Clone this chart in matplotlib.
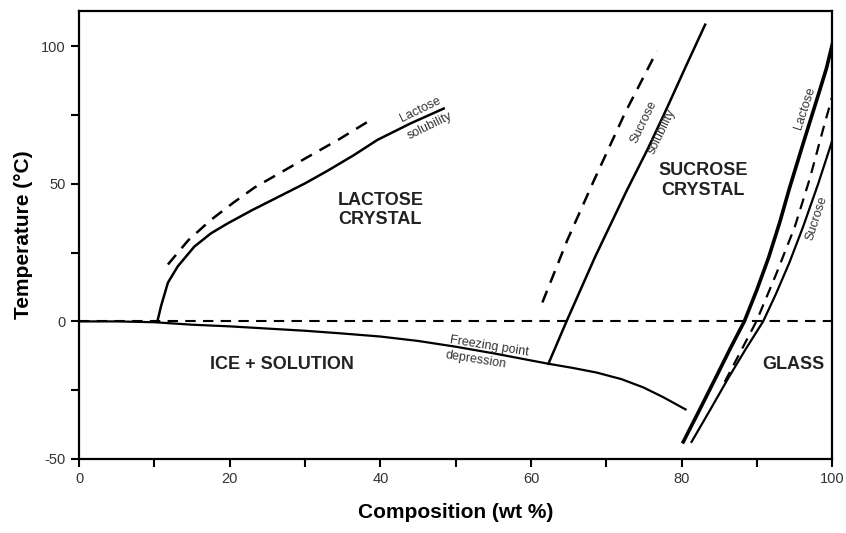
import matplotlib
matplotlib.use('Agg')
import matplotlib.pyplot as plt
from matplotlib.ticker import MultipleLocator

plt.rcParams['font.family'] = ['Liberation Sans', 'DejaVu Sans']
plt.rcParams['axes.unicode_minus'] = False

# Curvas (x em wt %, y em °C)
congel_x = [0, 5, 10, 15, 20, 25, 30, 35, 40, 45, 50, 55, 62.3, 65.5, 68.7, 72.0, 74.9, 77.5, 80.5]
congel_y = [0, 0, -0.3, -1.2, -1.8, -2.6, -3.4, -4.4, -5.5, -7.1, -9.2, -11.6, -15.4, -16.9, -18.6, -21.0, -24.0, -27.5, -32.0]

lact_sol_x = [10.4, 10.9, 11.8, 13.1, 15.3, 17.5, 19.7, 23.0, 26.4, 30.0, 33.0, 36.5, 39.6, 44.0, 48.4]
lact_sol_y = [0, 5.7, 14.1, 20.0, 27.2, 32.0, 35.6, 40.5, 45.2, 50.2, 54.8, 60.5, 66.0, 72.0, 77.4]

lact_sol_tr_x = [11.8, 14.5, 17.5, 20.5, 23.3, 27.0, 30.5, 34.5, 38.2]
lact_sol_tr_y = [20.7, 29.5, 36.9, 43.2, 48.7, 54.5, 60.0, 66.2, 72.4]

sac_sol_x = [62.3, 64.7, 68.5, 72.7, 75.5, 78.0, 80.5, 83.1]
sac_sol_y = [-15.4, 0, 23.5, 47.6, 62.8, 77.4, 92.5, 107.9]

sac_sol_tr_x = [61.5, 64.8, 68.3, 72.5, 76.7]
sac_sol_tr_y = [6.9, 29.5, 51.0, 76.0, 98.3]

vidro_lact_x = [80.2, 82.3, 84.5, 86.5, 88.3, 89.9, 91.5, 93.0, 94.3, 96.2, 98.1, 99.2, 100]
vidro_lact_y = [-43.8, -32.5, -20.5, -9.5, 0, 11.0, 23.0, 36.0, 48.5, 65.5, 82.2, 92.0, 101]

vidro_sac_x = [81.3, 83.8, 86.2, 88.5, 90.8, 92.5, 94.3, 96.1, 98.1, 100]
vidro_sac_y = [-43.8, -32.0, -20.5, -10.0, 0, 10.0, 21.5, 34.4, 50.0, 66]

vidro_tr_x = [85.7, 87.8, 89.9, 92.5, 95.0, 97.0, 98.8, 100]
vidro_tr_y = [-22, -11.0, 0, 17.0, 34.4, 52.0, 70.3, 82]

fig, ax = plt.subplots(figsize=(8.46, 5.33), dpi=100)
fig.subplots_adjust(left=0.0934, right=0.984, top=0.980, bottom=0.139)

tracejado = (5, 3.5)
ax.axhline(0, color='black', lw=1.5, dashes=tracejado)

ax.plot(congel_x, congel_y, color='black', lw=1.6)
ax.plot(lact_sol_x, lact_sol_y, color='black', lw=1.8)
ax.plot(lact_sol_tr_x, lact_sol_tr_y, color='black', lw=1.8, dashes=tracejado)
ax.plot(sac_sol_x, sac_sol_y, color='black', lw=1.8)
ax.plot(sac_sol_tr_x, sac_sol_tr_y, color='black', lw=1.8, dashes=tracejado)
ax.plot(vidro_lact_x, vidro_lact_y, color='black', lw=2.6)
ax.plot(vidro_sac_x, vidro_sac_y, color='black', lw=1.6)
ax.plot(vidro_tr_x, vidro_tr_y, color='black', lw=1.6, dashes=tracejado)

# Regiões
regiao = dict(fontsize=13, fontweight='bold', color='#222222', ha='center', va='center')
ax.text(40, 40.5, 'LACTOSE\nCRYSTAL', **regiao)
ax.text(82.8, 51.3, 'SUCROSE\nCRYSTAL', **regiao)
ax.text(26.9, -15.8, 'ICE + SOLUTION', **regiao)
ax.text(94.8, -15.8, 'GLASS', **regiao)

# Rótulos das curvas
rot = dict(fontsize=9, color='#333333', ha='center', va='center', rotation_mode='anchor')
ax.text(45.3, 77.0, 'Lactose', rotation=26, **rot)
ax.text(46.6, 71.2, 'solubility', rotation=26, **rot)
ax.text(74.9, 72.6, 'Sucrose', rotation=64, **rot)
ax.text(77.3, 69.2, 'solubility', rotation=64, **rot)
ax.text(54.4, -8.9, 'Freezing point', rotation=-9, **rot)
ax.text(52.6, -14.0, 'depression', rotation=-9, **rot)
ax.text(96.4, 77.4, 'Lactose', rotation=72, **rot)
ax.text(97.9, 37.4, 'Sucrose', rotation=72, **rot)

ax.set_xlim(0, 100)
ax.set_ylim(-50, 113)
ax.xaxis.set_major_locator(MultipleLocator(20))
ax.xaxis.set_minor_locator(MultipleLocator(10))
ax.yaxis.set_major_locator(MultipleLocator(50))
ax.yaxis.set_minor_locator(MultipleLocator(25))
ax.tick_params(which='both', direction='out', length=6, width=1.5, labelsize=10.5,
               labelcolor='#333333')

for lado in ax.spines.values():
    lado.set_linewidth(1.6)

ax.set_xlabel('Composition (wt %)', fontsize=15, fontweight='bold', labelpad=12)
ax.set_ylabel('Temperature (°C)', fontsize=15, fontweight='bold', labelpad=6)

plt.savefig('out.png', dpi=100)
